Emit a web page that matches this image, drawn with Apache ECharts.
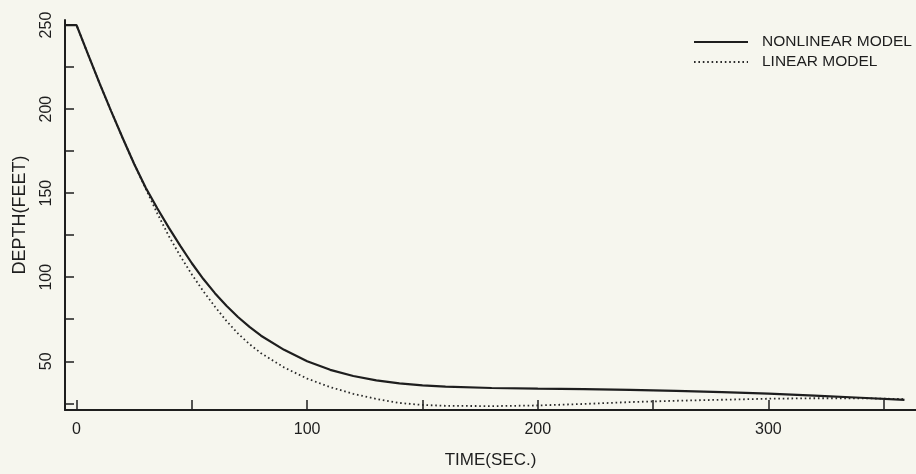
<!DOCTYPE html>
<html>
<head>
<meta charset="utf-8">
<script src="https://cdn.jsdelivr.net/npm/echarts@6/dist/echarts.min.js"></script>
<style>
html,body{margin:0;padding:0;background:#f6f6ee;}
#chart{width:916px;height:474px;}
</style>
</head>
<body>
<div id="chart"></div>
<script>
const timeSec = [-5,0,5,10,15,20,25,30,35,40,45,50,55,60,65,70,75,80,90,100,110,120,130,140,150,160,180,200,220,240,260,280,300,320,340,359];
const nonlinearDepth = [250,250,232.5,215.3,198.8,182.8,167.3,153.2,141,129.5,118.6,108.3,98.9,90.5,83,76.3,70.4,65.2,56.8,50,44.9,41.2,38.6,36.8,35.6,34.9,34.1,33.7,33.4,33,32.4,31.6,30.7,29.6,28.3,27];
const linearDepth = [250,250,232.5,215.3,198.8,182.8,167.3,152.7,138,124.5,112.6,101.6,91.6,82.5,74,66.5,60.2,54.8,46.3,39.7,34.6,30.6,27.6,25.2,24,23.5,23.3,23.7,24.6,25.7,26.5,27.1,27.7,28,28,27.5];
const seriesNames = ['NONLINEAR MODEL', 'LINEAR MODEL'];
const xTickValues = [0,50,100,150,200,250,300,350];
const xLabelValues = [0,100,200,300];
const yTickValues = [25,50,75,100,125,150,175,200,225,250];
const yLabelValues = [50,100,150,200,250];

const ink = '#1e1e1e';
const font = '"Liberation Sans", Arial, sans-serif';

const chart = echarts.init(document.getElementById('chart'), null, {renderer: 'canvas'});
chart.setOption({
  backgroundColor: '#f6f6ee',
  animation: false,
  grid: {left: 65, right: 0, top: 20, bottom: 63, containLabel: false},
  legend: {
    orient: 'vertical',
    left: 693,
    top: 34,
    itemWidth: 54,
    itemHeight: 14,
    itemGap: 4,
    padding: 0,
    itemStyle: {opacity: 0},
    textStyle: {fontFamily: font, fontSize: 15.5, color: ink, padding: [0, 0, 0, 9]},
    data: seriesNames
  },
  xAxis: {
    type: 'value',
    min: -5,
    max: 364,
    name: 'TIME(SEC.)',
    nameLocation: 'middle',
    nameGap: 42,
    nameTextStyle: {fontFamily: font, fontSize: 17, color: ink},
    splitLine: {show: false},
    axisLine: {onZero: false, lineStyle: {color: ink, width: 2}},
    axisTick: {inside: true, length: 10, lineStyle: {color: ink, width: 1.5}, customValues: xTickValues},
    axisLabel: {fontFamily: font, fontSize: 16, color: ink, margin: 12, customValues: xLabelValues}
  },
  yAxis: {
    type: 'value',
    min: 21,
    max: 253,
    name: 'DEPTH(FEET)',
    nameLocation: 'middle',
    nameGap: 36,
    nameTextStyle: {fontFamily: font, fontSize: 18, color: ink},
    splitLine: {show: false},
    axisLine: {onZero: false, lineStyle: {color: ink, width: 2}},
    axisTick: {inside: true, length: 9, lineStyle: {color: ink, width: 1.5}, customValues: yTickValues},
    axisLabel: {fontFamily: font, fontSize: 16, color: ink, margin: 10, rotate: 90, customValues: yLabelValues}
  },
  series: [
    {
      name: seriesNames[0],
      type: 'line',
      symbol: 'none',
      data: timeSec.map((t, i) => [t, nonlinearDepth[i]]),
      lineStyle: {color: ink, width: 2.2},
      itemStyle: {color: ink},
      z: 3
    },
    {
      name: seriesNames[1],
      type: 'line',
      symbol: 'none',
      data: timeSec.map((t, i) => [t, linearDepth[i]]),
      lineStyle: {color: '#2a2a2a', width: 1.8, type: [1.6, 2.8]},
      itemStyle: {color: '#2a2a2a'},
      z: 2
    }
  ]
});
</script>
</body>
</html>
